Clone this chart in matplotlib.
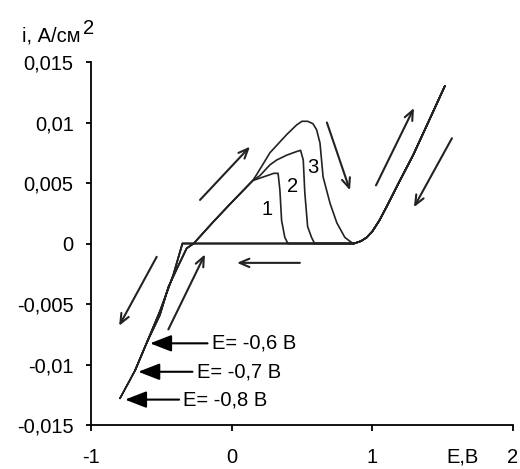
import numpy as np
import matplotlib
matplotlib.use("Agg")
import matplotlib.pyplot as plt

plt.rcParams["font.family"] = ["Liberation Sans", "DejaVu Sans"]
plt.rcParams["axes.unicode_minus"] = False

FS = 14.5

# switching potentials of the three scans
E_switch = [-0.6, -0.7, -0.8]
curve_labels = ["1", "2", "3"]

# right-hand branch, the same for all scans
right_E = [0.87, 0.92, 0.96, 1.0, 1.05, 1.10, 1.196, 1.29, 1.385, 1.456, 1.515]
right_i = [0.0, 0.0002, 0.0005, 0.0010, 0.0019, 0.0030, 0.0052, 0.0073, 0.0097, 0.0115, 0.0130]

# cathodic branch down to the switching potential
cath_E = [-0.35, -0.415, -0.51, -0.60, -0.687, -0.794]
cath_i = [0.0, -0.0026, -0.0056, -0.0081, -0.0105, -0.0128]

# return towards zero current
ret_E = [-0.51, -0.45, -0.39, -0.32, -0.27]
ret_i = [-0.0059, -0.0036, -0.0021, -0.0004, 0.0]

# common anodic rise
rise_E = [-0.13, 0.0, 0.15]
rise_i = [0.0018, 0.0034, 0.0052]

# anodic peaks of scans 1, 2, 3
peak1_E = [0.20, 0.25, 0.30, 0.33, 0.343, 0.355, 0.378, 0.40]
peak1_i = [0.0054, 0.0056, 0.0058, 0.0058, 0.0044, 0.0019, 0.0005, 0.0]
peak2_E = [0.20, 0.272, 0.32, 0.391, 0.462, 0.49, 0.509, 0.52, 0.54, 0.568, 0.59]
peak2_i = [0.0056, 0.0065, 0.0069, 0.0073, 0.0076, 0.0077, 0.0069, 0.0042, 0.0014, 0.0005, 0.0]
peak3_E = [0.178, 0.272, 0.391, 0.462, 0.50, 0.54, 0.578, 0.604, 0.628, 0.65, 0.70, 0.748, 0.805, 0.862]
peak3_i = [0.0057, 0.0075, 0.0090, 0.0098, 0.0101, 0.0101, 0.0099, 0.0094, 0.0083, 0.0055, 0.0033, 0.0017, 0.0005, 0.0]
peaks = [(peak1_E, peak1_i), (peak2_E, peak2_i), (peak3_E, peak3_i)]

label_pos = [(0.25, 0.0028), (0.43, 0.0047), (0.578, 0.0063)]

fig = plt.figure(figsize=(5.2, 4.69), dpi=100)
ax = fig.add_axes([0.175, 0.0938, 0.8115, 0.774])

for k in range(3):
    E_sw = E_switch[k]
    down = [(e, c) for e, c in zip(cath_E, cath_i) if e >= E_sw - 0.01]
    back = [(e, c) for e, c in down if e < -0.51][:-1][::-1]
    pts = list(zip(right_E, right_i))[::-1] + down + back
    pts += list(zip(ret_E, ret_i)) + list(zip(rise_E, rise_i))
    pts += list(zip(*peaks[k])) + list(zip(right_E, right_i))
    E, i = np.array(pts).T
    ax.plot(E, i, color="#222222", lw=1.2)
    ax.text(label_pos[k][0], label_pos[k][1], curve_labels[k], fontsize=FS,
            ha="center", va="center")

# scan direction arrows
sweep_arrows = [
    ((-0.225, 0.0036), (0.13, 0.0080)),
    ((0.677, 0.0100), (0.841, 0.0044)),
    ((1.026, 0.0048), (1.296, 0.0112)),
    ((1.566, 0.0087), (1.296, 0.0030)),
    ((0.485, -0.0016), (0.038, -0.0016)),
    ((-0.533, -0.0011), (-0.80, -0.0068)),
    ((-0.45, -0.0071), (-0.19, -0.0009)),
]
for tail, head in sweep_arrows:
    ax.annotate("", xy=head, xytext=tail,
                arrowprops=dict(arrowstyle="->,head_length=0.7,head_width=0.3",
                                color="#222222", lw=1.5, shrinkA=0, shrinkB=0))

# switching potential labels
switch_text = ["E= -0,6 В", "E= -0,7 В", "E= -0,8 В"]
switch_tip = [(-0.58, -0.00825), (-0.664, -0.0106), (-0.758, -0.0129)]
switch_text_x = [-0.142, -0.249, -0.344]
for txt, tip, tx in zip(switch_text, switch_tip, switch_text_x):
    ax.annotate(txt, xy=tip, xytext=(tx, tip[1]), fontsize=FS, va="center", ha="left",
                arrowprops=dict(arrowstyle="-|>,head_length=0.9,head_width=0.35",
                                color="black", lw=1.5, shrinkA=1, shrinkB=0))

ax.set_xlim(-1, 2)
ax.set_ylim(-0.015, 0.015)
ax.set_xticks([-1, 0, 1, 2])
ax.set_xticklabels(["-1", "0", "1", "2"])
ax.set_yticks([-0.015, -0.01, -0.005, 0, 0.005, 0.01, 0.015])
ax.set_yticklabels(["-0,015", "-0,01", "-0,005", "0", "0,005", "0,01", "0,015"])
ax.spines["top"].set_visible(False)
ax.spines["right"].set_visible(False)
for s in ["left", "bottom"]:
    ax.spines[s].set_linewidth(1.3)
ax.tick_params(axis="both", labelsize=FS, width=1.3, direction="out")
ax.tick_params(axis="x", length=4.5, pad=12)
ax.tick_params(axis="y", length=3.5, pad=9)

# axis titles
ylab = fig.text(22 / 520, 1 - 36 / 469, "i, А/см", fontsize=FS, ha="left", va="center")
ax.annotate("2", xy=(1.0, 0.5), xycoords=ylab, xytext=(2, 8), textcoords="offset pixels",
            fontsize=FS, ha="left", va="center")
fig.text(463 / 520, 1 - 457 / 469, "E,В", fontsize=FS, ha="center", va="center")

fig.savefig("out.png", dpi=100)
